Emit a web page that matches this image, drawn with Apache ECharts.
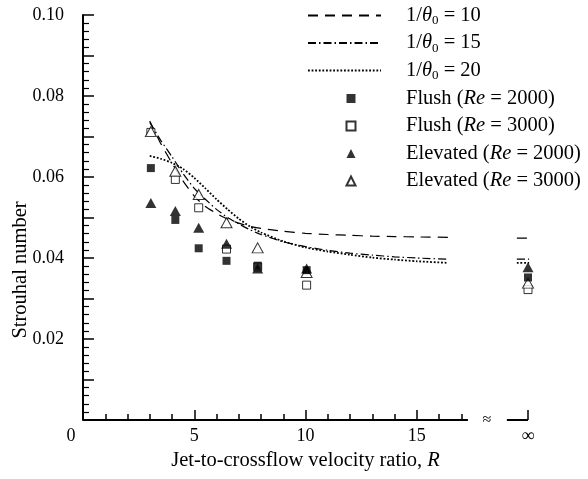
<!DOCTYPE html>
<html><head><meta charset="utf-8">
<script src="https://cdn.jsdelivr.net/npm/echarts@6/dist/echarts.min.js"></script>
<style>html,body{margin:0;padding:0;background:#fff}#c{width:588px;height:479px}</style>
</head><body><div id="c"></div>
<script>
// ---------- data ----------
const INF = 20; // axis position used for R = infinity
const R_MEASURED = [3.05, 4.15, 5.2, 6.45, 7.85, 10.05, INF];
const FLUSH_2000 = [0.0622, 0.0494, 0.0424, 0.0393, 0.0381, 0.0370, 0.0352];
const FLUSH_3000 = [0.0710, 0.0594, 0.0524, 0.0422, 0.0378, 0.0333, 0.0322];
const ELEV_2000  = [0.0536, 0.0516, 0.0475, 0.0435, 0.0374, 0.0374, 0.0377];
const ELEV_3000  = [0.0712, 0.0614, 0.0557, 0.0487, 0.0425, 0.0364, 0.0338];

const R_MODEL  = [3.0, 3.5, 4.0, 4.5, 5.0, 5.5, 6.0, 6.5, 7.0, 7.5, 8.0, 9.0, 10, 11, 12, 13, 14, 15, 16.4];
const THETA_10 = [0.0738, 0.0682, 0.0634, 0.0590, 0.0553, 0.0527, 0.0510, 0.0496, 0.0486, 0.0478, 0.0473, 0.0466, 0.0461, 0.0458, 0.0456, 0.0454, 0.0453, 0.0452, 0.0451];
const THETA_15 = [0.0735, 0.0690, 0.0650, 0.0608, 0.0572, 0.0545, 0.0520, 0.0500, 0.0484, 0.0470, 0.0458, 0.0440, 0.0428, 0.0419, 0.0412, 0.0407, 0.0403, 0.0400, 0.0397];
const THETA_20 = [0.0652, 0.0645, 0.0635, 0.0620, 0.0598, 0.0572, 0.0545, 0.0520, 0.0497, 0.0478, 0.0463, 0.0441, 0.0426, 0.0416, 0.0408, 0.0401, 0.0396, 0.0392, 0.0388];
const R_INF_SEG = [19.5, 20.05];          // short model segments drawn at R = infinity
const THETA_INF = { t10: 0.0449, t15: 0.0397, t20: 0.0388 };

const X_MAJOR_TICKS = [0, 5, 10, 15, INF];
const X_MINOR_TICKS = [1, 2, 3, 4, 6, 7, 8, 9, 11, 12, 13, 14, 16, 17];
const X_AXIS_SEGMENTS = [[0, 17.3], [19.05, INF]];
const Y_LABELS = [0.02, 0.04, 0.06, 0.08, 0.10];

const LEGEND_TEXT = {
  t10: '{n|1/}{i|θ}{s|0}{n| = 10}',
  t15: '{n|1/}{i|θ}{s|0}{n| = 15}',
  t20: '{n|1/}{i|θ}{s|0}{n| = 20}',
  f2: '{n|Flush (}{i|Re}{n| = 2000)}',
  f3: '{n|Flush (}{i|Re}{n| = 3000)}',
  e2: '{n|Elevated (}{i|Re}{n| = 2000)}',
  e3: '{n|Elevated (}{i|Re}{n| = 3000)}'
};

// ---------- build ----------
const FONT = '"Liberation Serif","Times New Roman",serif';
const BIG = 20.5, TICK = 18;
const pair = (xs, ys) => xs.map((x, i) => [x, ys[i]]);
const modelData = (ys, yInf) => pair(R_MODEL, ys).concat([[18, '-'], [R_INF_SEG[0], yInf], [R_INF_SEG[1], yInf]]);
const rich = {
  n: { fontFamily: FONT, fontSize: BIG, color: '#000', lineHeight: 24 },
  i: { fontFamily: FONT, fontSize: BIG, fontStyle: 'italic', color: '#000', lineHeight: 24 },
  s: { fontFamily: FONT, fontSize: 13, color: '#000', lineHeight: 24, verticalAlign: 'bottom' }
};
const lineSeries = (name, ys, yInf, type, width) => ({
  name, type: 'line', data: modelData(ys, yInf), symbol: 'none', smooth: 0.2, connectNulls: false,
  lineStyle: { color: '#000', width, type }, itemStyle: { color: '#000' }, z: 2, silent: true
});
const scatter = (name, ys, symbol, size, filled) => ({
  name, type: 'scatter', data: pair(R_MEASURED, ys), symbol, symbolSize: size,
  itemStyle: filled ? { color: '#000', borderColor: '#000', borderWidth: 0 }
                    : { color: '#fff', borderColor: '#000', borderWidth: 1 },
  z: filled ? 4 : 3, silent: true
});

const chart = echarts.init(document.getElementById('c'), null, { renderer: 'canvas' });
const option = {
  animation: false,
  backgroundColor: '#fff',
  textStyle: { fontFamily: FONT },
  grid: { left: 83, right: 60, top: 15, bottom: 59, containLabel: false, outerBoundsMode: 'none' },
  xAxis: [{
    type: 'value', min: 0, max: INF,
    axisLine: { show: false },
    splitLine: { show: false },
    axisTick: { show: true, inside: true, length: 10, customValues: X_MAJOR_TICKS, lineStyle: { color: '#000', width: 1.5 } },
    axisLabel: {
      customValues: X_MAJOR_TICKS, margin: 7, color: '#000', fontFamily: FONT, fontSize: TICK,
      formatter: v => v === 0 ? '{o|0}' : (v === INF ? '∞' : String(v)),
      rich: { o: { fontFamily: FONT, fontSize: TICK, color: '#000', padding: [0, 24, 0, 0] } }
    },
    name: 'Jet-to-crossflow velocity ratio, {i|R}', nameLocation: 'middle', nameGap: 30,
    nameMoveOverlap: false,
    nameTextStyle: { fontFamily: FONT, fontSize: BIG, color: '#000',
      rich: { i: { fontFamily: FONT, fontSize: BIG, fontStyle: 'italic', color: '#000' } } }
  }, {
    type: 'value', min: 0, max: INF, position: 'bottom',
    axisLine: { show: false }, splitLine: { show: false }, axisLabel: { show: false },
    axisTick: { show: true, inside: true, length: 6, customValues: X_MINOR_TICKS, lineStyle: { color: '#000', width: 1.5 } }
  }],
  yAxis: {
    type: 'value', min: 0, max: 0.1, interval: 0.01,
    axisLine: { show: true, lineStyle: { color: '#000', width: 2 } },
    splitLine: { show: false },
    axisTick: { show: true, inside: true, length: 11, lineStyle: { color: '#000', width: 1.5 } },
    minorTick: { show: true, splitNumber: 5, length: 6, lineStyle: { color: '#000', width: 1.2 } },
    axisLabel: { customValues: Y_LABELS, margin: 19, color: '#000', fontFamily: FONT, fontSize: TICK,
      formatter: v => v.toFixed(2) },
    name: 'Strouhal number', nameLocation: 'middle', nameGap: 52, nameMoveOverlap: false,
    nameTextStyle: { fontFamily: FONT, fontSize: BIG, color: '#000', padding: [0, 105, 0, 0] }
  },
  legend: [{
    data: ['t10', 't15', 't20'], orient: 'vertical', left: 307, top: 5, padding: 0,
    itemWidth: 73, itemHeight: 14, itemGap: 5,
    itemStyle: { opacity: 0 },
    formatter: n => LEGEND_TEXT[n],
    textStyle: { fontFamily: FONT, fontSize: BIG, color: '#000', padding: [0, 0, 0, 20], rich },
    selectedMode: false
  }, {
    data: ['f2', 'f3', 'e2', 'e3'], orient: 'vertical', left: 345.5, top: 88, padding: 0,
    itemWidth: 9, itemHeight: 9, itemGap: 6.5,
    formatter: n => LEGEND_TEXT[n],
    textStyle: { fontFamily: FONT, fontSize: BIG, color: '#000', padding: [0, 0, 0, 45.5], rich },
    selectedMode: false
  }],
  series: [
    lineSeries('t10', THETA_10, THETA_INF.t10, [10, 7], 1.2),
    lineSeries('t15', THETA_15, THETA_INF.t15, [8, 3, 1.5, 3], 1.2),
    lineSeries('t20', THETA_20, THETA_INF.t20, [1.8, 1.8], 1.8),
    scatter('f2', FLUSH_2000, 'rect', 8, true),
    scatter('f3', FLUSH_3000, 'rect', 8, false),
    scatter('e2', ELEV_2000, 'triangle', [11, 10], true),
    scatter('e3', ELEV_3000, 'triangle', [11, 10], false),
    {
      name: 'axis', type: 'line', symbol: 'none', clip: false, silent: true, z: 5,
      data: [[X_AXIS_SEGMENTS[0][0], 0], [X_AXIS_SEGMENTS[0][1], 0], [18, '-'],
             [X_AXIS_SEGMENTS[1][0], 0], [X_AXIS_SEGMENTS[1][1], 0]],
      connectNulls: false,
      lineStyle: { color: '#000', width: 2 }
    }
  ]
};
chart.setOption(option);
const p = chart.convertToPixel({ xAxisIndex: 0, yAxisIndex: 0 }, [18.15, 0]);
chart.setOption({
  graphic: [{ type: 'text', x: p[0], y: p[1], silent: true,
    style: { text: '≈', fontFamily: FONT, fontSize: 16, fill: '#000', align: 'center', verticalAlign: 'middle' } }]
});
</script></body></html>
